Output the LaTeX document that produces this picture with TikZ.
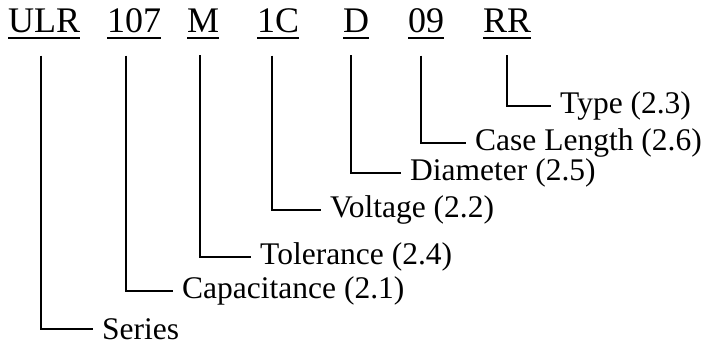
\documentclass[tikz,border=0pt]{standalone}
\usepackage{fontspec}
\setmainfont{Liberation Serif}
\usetikzlibrary{positioning}

\tikzset{
  code/.style={anchor=base west,inner sep=0pt,font=\fontsize{36}{36}\selectfont},
  field/.style={anchor=west,inner xsep=9pt,inner ysep=0pt,font=\fontsize{31.5}{31.5}\selectfont},
  uline/.style={line width=2.4pt},
  link/.style={line width=2pt}
}

\begin{document}
\begin{tikzpicture}[x=1pt,y=-1pt]
		\useasboundingbox (0,0) rectangle (708,347);

		% part number
		\node[code] (ulr) at (8,33) {ULR};
		\node[code] (cap) at (107,33) {107};
		\node[code] (tol) at (187,33) {M};
		\node[code] (volt) at (257,33) {1C};
		\node[code] (dia) at (343,33) {D};
		\node[code] (len) at (408,33) {09};
		\node[code] (typ) at (483,33) {RR};

		\foreach \n in {ulr,cap,tol,volt,dia,len,typ}
			\draw[uline] ([yshift=-5pt]\n.base west) -- ([yshift=-5pt]\n.base east);

		% meanings
		\node[field] (typlbl) at (551,106) {Type (2.3)};
		\node[field] (lenlbl) at (466,143) {Case Length (2.6)};
		\node[field] (dialbl) at (401,173) {Diameter (2.5)};
		\node[field] (voltlbl) at (321,210) {Voltage (2.2)};
		\node[field] (tollbl) at (251,257) {Tolerance (2.4)};
		\node[field] (caplbl) at (173,291) {Capacitance (2.1)};
		\node[field] (ulrlbl) at (93,329) {Series};

		\begin{scope}[link]
			\draw ([xshift=-3pt,yshift=-22pt]ulr.south) |- (ulrlbl.west);
			\draw ([xshift=-8pt,yshift=-22pt]cap.south) |- (caplbl.west);
			\draw ([xshift=-3pt,yshift=-22pt]tol.south) |- (tollbl.west);
			\draw ([xshift=-6pt,yshift=-22pt]volt.south) |- (voltlbl.west);
			\draw ([xshift=-5pt,yshift=-22pt]dia.south) |- (dialbl.west);
			\draw ([xshift=-5pt,yshift=-22pt]len.south) |- (lenlbl.west);
			\draw ([yshift=-22pt]typ.south) |- (typlbl.west);
		\end{scope}
	\end{tikzpicture}
\end{document}
